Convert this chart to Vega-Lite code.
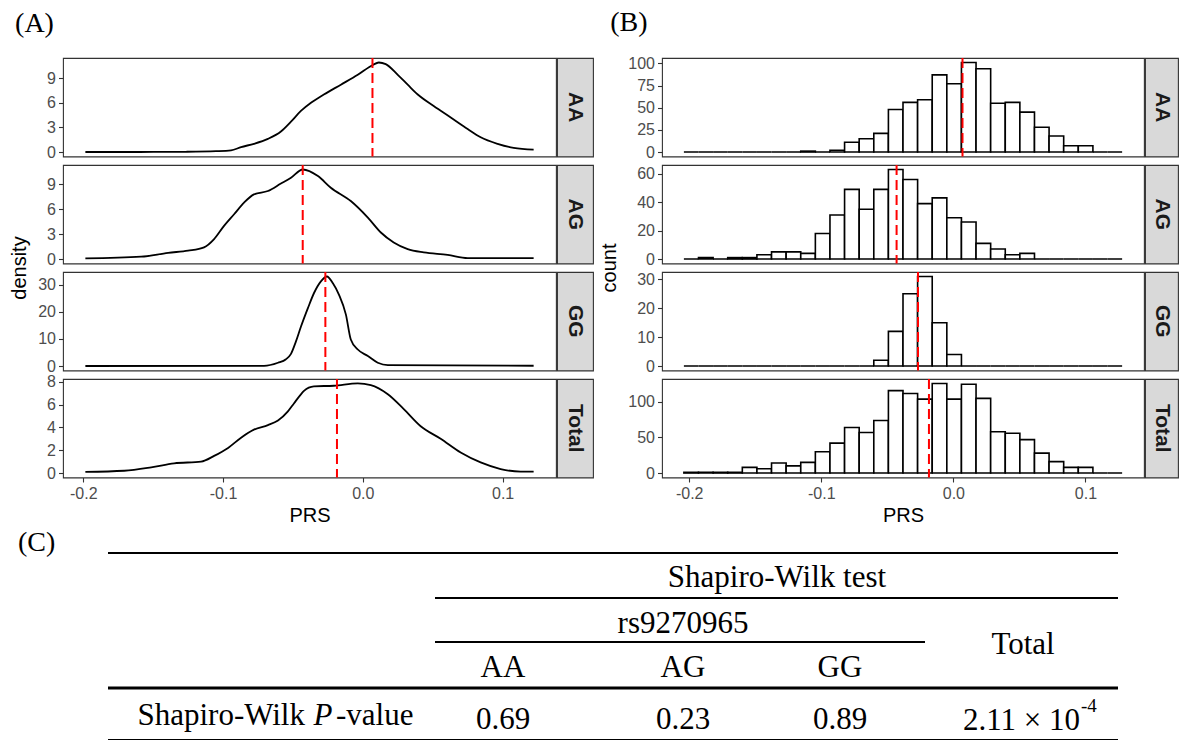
{
"$schema": "https://vega.github.io/schema/vega-lite/v6.json",
"background": "white",
"padding": {"left": 9, "top": 8, "right": 0, "bottom": 0},
"config": {
  "view": {"stroke": "#333333", "strokeWidth": 1.1},
  "axis": {"grid": false, "domain": false, "ticks": true, "tickColor": "#333333", "tickSize": 4.5, "tickWidth": 1.1, "labelColor": "#4D4D4D", "labelFont": "Liberation Sans", "labelFontSize": 16, "labelPadding": 3, "titleFont": "Liberation Sans", "titleFontSize": 20, "titleFontWeight": "normal", "titleColor": "#000000", "labelOverlap": false, "labelFlush": false},
  "title": {"font": "Liberation Serif", "fontSize": 28, "fontWeight": "normal", "color": "#000000", "anchor": "start", "frame": "bounds", "offset": 18}
},
"datasets": {
  "dens": [
    {"g":"AA","prs":-0.1985,"density":0},{"g":"AA","prs":-0.17,"density":0},{"g":"AA","prs":-0.15,"density":0.01},{"g":"AA","prs":-0.1264,"density":0.03},{"g":"AA","prs":-0.105,"density":0.1},{"g":"AA","prs":-0.0943,"density":0.2},{"g":"AA","prs":-0.0871,"density":0.6},{"g":"AA","prs":-0.0779,"density":1.0},{"g":"AA","prs":-0.0679,"density":1.6},{"g":"AA","prs":-0.0586,"density":2.5},{"g":"AA","prs":-0.0514,"density":3.7},{"g":"AA","prs":-0.0443,"density":5.0},{"g":"AA","prs":-0.0371,"density":6.0},{"g":"AA","prs":-0.0279,"density":7.0},{"g":"AA","prs":-0.0157,"density":8.2},{"g":"AA","prs":-0.0036,"density":9.4},{"g":"AA","prs":0.0071,"density":10.6},{"g":"AA","prs":0.0114,"density":10.9},{"g":"AA","prs":0.0164,"density":10.7},{"g":"AA","prs":0.025,"density":9.4},{"g":"AA","prs":0.0321,"density":8.2},{"g":"AA","prs":0.0393,"density":7.0},{"g":"AA","prs":0.0507,"density":5.6},{"g":"AA","prs":0.0629,"density":4.2},{"g":"AA","prs":0.075,"density":2.8},{"g":"AA","prs":0.0843,"density":1.8},{"g":"AA","prs":0.0964,"density":1.0},{"g":"AA","prs":0.1079,"density":0.5},{"g":"AA","prs":0.1222,"density":0.28},
    {"g":"AG","prs":-0.1985,"density":0.07},{"g":"AG","prs":-0.1586,"density":0.28},{"g":"AG","prs":-0.1393,"density":0.75},{"g":"AG","prs":-0.125,"density":1.0},{"g":"AG","prs":-0.1136,"density":1.4},{"g":"AG","prs":-0.1064,"density":2.4},{"g":"AG","prs":-0.0993,"density":4.0},{"g":"AG","prs":-0.0921,"density":5.4},{"g":"AG","prs":-0.085,"density":6.8},{"g":"AG","prs":-0.0779,"density":7.8},{"g":"AG","prs":-0.0679,"density":8.2},{"g":"AG","prs":-0.0586,"density":9.1},{"g":"AG","prs":-0.0514,"density":9.8},{"g":"AG","prs":-0.0429,"density":10.8},{"g":"AG","prs":-0.0321,"density":10.0},{"g":"AG","prs":-0.0229,"density":8.6},{"g":"AG","prs":-0.0086,"density":7.0},{"g":"AG","prs":0.0036,"density":5.0},{"g":"AG","prs":0.0129,"density":3.2},{"g":"AG","prs":0.0221,"density":2.0},{"g":"AG","prs":0.0321,"density":1.2},{"g":"AG","prs":0.0436,"density":0.8},{"g":"AG","prs":0.0607,"density":0.5},{"g":"AG","prs":0.075,"density":0.12},{"g":"AG","prs":0.1222,"density":0.1},
    {"g":"GG","prs":-0.1985,"density":0},{"g":"GG","prs":-0.0707,"density":0.05},{"g":"GG","prs":-0.0607,"density":1.2},{"g":"GG","prs":-0.055,"density":2.5},{"g":"GG","prs":-0.0514,"density":4.5},{"g":"GG","prs":-0.0479,"density":9.0},{"g":"GG","prs":-0.0443,"density":14.5},{"g":"GG","prs":-0.0393,"density":21.4},{"g":"GG","prs":-0.035,"density":26.9},{"g":"GG","prs":-0.03,"density":31.3},{"g":"GG","prs":-0.0257,"density":33.1},{"g":"GG","prs":-0.0214,"density":30.6},{"g":"GG","prs":-0.0171,"density":26.4},{"g":"GG","prs":-0.0121,"density":19.0},{"g":"GG","prs":-0.0086,"density":9.8},{"g":"GG","prs":-0.0036,"density":6.1},{"g":"GG","prs":0.0036,"density":3.7},{"g":"GG","prs":0.0107,"density":1.2},{"g":"GG","prs":0.0179,"density":0.3},{"g":"GG","prs":0.1222,"density":0.1},
    {"g":"Total","prs":-0.1985,"density":0.1},{"g":"Total","prs":-0.1707,"density":0.2},{"g":"Total","prs":-0.1514,"density":0.5},{"g":"Total","prs":-0.135,"density":0.85},{"g":"Total","prs":-0.1157,"density":1.0},{"g":"Total","prs":-0.1064,"density":1.5},{"g":"Total","prs":-0.0964,"density":2.2},{"g":"Total","prs":-0.0871,"density":3.1},{"g":"Total","prs":-0.0779,"density":3.8},{"g":"Total","prs":-0.0679,"density":4.2},{"g":"Total","prs":-0.0607,"density":4.6},{"g":"Total","prs":-0.0536,"density":5.4},{"g":"Total","prs":-0.0493,"density":6.1},{"g":"Total","prs":-0.0443,"density":6.9},{"g":"Total","prs":-0.0421,"density":7.2},{"g":"Total","prs":-0.035,"density":7.6},{"g":"Total","prs":-0.0207,"density":7.65},{"g":"Total","prs":-0.0036,"density":7.85},{"g":"Total","prs":0.0057,"density":7.7},{"g":"Total","prs":0.0179,"density":6.9},{"g":"Total","prs":0.0293,"density":5.6},{"g":"Total","prs":0.0414,"density":4.1},{"g":"Total","prs":0.0557,"density":3.0},{"g":"Total","prs":0.07,"density":1.8},{"g":"Total","prs":0.0843,"density":0.93},{"g":"Total","prs":0.0986,"density":0.35},{"g":"Total","prs":0.1129,"density":0.12},{"g":"Total","prs":0.1222,"density":0.12}
  ],
  "hist": [
    {"x0":-0.20403,"x1":-0.19297,"AA":0,"AG":0,"GG":0,"Total":1},
    {"x0":-0.19297,"x1":-0.18191,"AA":0,"AG":1,"GG":0,"Total":1},
    {"x0":-0.18191,"x1":-0.17085,"AA":0,"AG":0,"GG":0,"Total":1},
    {"x0":-0.17085,"x1":-0.15979,"AA":0,"AG":1,"GG":0,"Total":1},
    {"x0":-0.15979,"x1":-0.14874,"AA":0,"AG":1,"GG":0,"Total":8},
    {"x0":-0.14874,"x1":-0.13768,"AA":0,"AG":3,"GG":0,"Total":6},
    {"x0":-0.13768,"x1":-0.12662,"AA":0,"AG":5,"GG":0,"Total":14},
    {"x0":-0.12662,"x1":-0.11556,"AA":0,"AG":5,"GG":0,"Total":10},
    {"x0":-0.11556,"x1":-0.1045,"AA":1,"AG":4,"GG":0,"Total":15},
    {"x0":-0.1045,"x1":-0.09344,"AA":0,"AG":18,"GG":0,"Total":30},
    {"x0":-0.09344,"x1":-0.08238,"AA":2,"AG":31,"GG":0,"Total":42},
    {"x0":-0.08238,"x1":-0.07132,"AA":11,"AG":49,"GG":0,"Total":64},
    {"x0":-0.07132,"x1":-0.06026,"AA":15,"AG":35,"GG":0,"Total":57},
    {"x0":-0.06026,"x1":-0.0492,"AA":21,"AG":49,"GG":2,"Total":74},
    {"x0":-0.0492,"x1":-0.03815,"AA":48,"AG":63,"GG":12,"Total":116},
    {"x0":-0.03815,"x1":-0.02709,"AA":56,"AG":56,"GG":25,"Total":112},
    {"x0":-0.02709,"x1":-0.01603,"AA":59,"AG":39,"GG":31,"Total":104},
    {"x0":-0.01603,"x1":-0.00497,"AA":87,"AG":43,"GG":15,"Total":126},
    {"x0":-0.00497,"x1":0.00609,"AA":77,"AG":29,"GG":4,"Total":104},
    {"x0":0.00609,"x1":0.01715,"AA":101,"AG":26,"GG":0,"Total":125},
    {"x0":0.01715,"x1":0.02821,"AA":94,"AG":11,"GG":0,"Total":105},
    {"x0":0.02821,"x1":0.03927,"AA":55,"AG":7,"GG":0,"Total":58},
    {"x0":0.03927,"x1":0.05033,"AA":56,"AG":3,"GG":0,"Total":56},
    {"x0":0.05033,"x1":0.06139,"AA":45,"AG":4,"GG":0,"Total":47},
    {"x0":0.06139,"x1":0.07244,"AA":28,"AG":0,"GG":0,"Total":28},
    {"x0":0.07244,"x1":0.0835,"AA":18,"AG":0,"GG":0,"Total":16},
    {"x0":0.0835,"x1":0.09456,"AA":7,"AG":0,"GG":0,"Total":8},
    {"x0":0.09456,"x1":0.10562,"AA":7,"AG":0,"GG":0,"Total":8},
    {"x0":0.10562,"x1":0.11668,"AA":0,"AG":0,"GG":0,"Total":0},
    {"x0":0.11668,"x1":0.12774,"AA":0,"AG":0,"GG":0,"Total":0}
  ],
  "means": [{"g":"AA","mean":0.0069},{"g":"AG","mean":-0.043},{"g":"GG","mean":-0.0268},{"g":"Total","mean":-0.0185}]
},
"vconcat": [
  {
    "spacing": 5,
    "hconcat": [
      {
        "title": {"text": "(A)", "dx": 6},
        "columns": 2,
        "spacing": {"row": 8, "column": 1},
        "bounds": "flush",
        "concat": [
            {"width": 493, "height": 98.5, "layer": [
              {"data": {"name": "dens"}, "transform": [{"filter": "datum.g === 'AA'"}], "mark": {"type": "line", "color": "#000000", "strokeWidth": 1.8, "interpolate": "monotone"},
               "encoding": {"x": {"field": "prs", "type": "quantitative", "scale": {"domain": [-0.2145, 0.1382], "nice": false, "zero": false}, "axis": null},
                            "y": {"field": "density", "type": "quantitative", "scale": {"domain": [-0.545, 11.445], "nice": false, "zero": false}, "axis": {"values": [0,3,6,9], "title": null}}}},
              {"data": {"name": "means"}, "transform": [{"filter": "datum.g === 'AA'"}], "mark": {"type": "rule", "color": "#FF0000", "strokeWidth": 2, "strokeDash": [10,5]},
               "encoding": {"x": {"field": "mean", "type": "quantitative", "scale": {"domain": [-0.2145, 0.1382], "nice": false, "zero": false}}}}
            ]},
            {"width": 36, "height": 98.5, "view": {"fill": "#D9D9D9", "stroke": "#333333", "strokeWidth": 1.1}, "data": {"values": [{"g": "AA"}]}, "mark": {"type": "text", "angle": 90, "font": "Liberation Sans", "fontSize": 21, "fontWeight": "bold", "color": "#1A1A1A", "align": "center", "baseline": "middle"}, "encoding": {"text": {"field": "g", "type": "nominal"}}},
            {"width": 493, "height": 98.5, "layer": [
              {"data": {"name": "dens"}, "transform": [{"filter": "datum.g === 'AG'"}], "mark": {"type": "line", "color": "#000000", "strokeWidth": 1.8, "interpolate": "monotone"},
               "encoding": {"x": {"field": "prs", "type": "quantitative", "scale": {"domain": [-0.2145, 0.1382], "nice": false, "zero": false}, "axis": null},
                            "y": {"field": "density", "type": "quantitative", "scale": {"domain": [-0.54, 11.34], "nice": false, "zero": false}, "axis": {"values": [0,3,6,9], "title": "density", "titleY": 102.5, "titlePadding": 17}}}},
              {"data": {"name": "means"}, "transform": [{"filter": "datum.g === 'AG'"}], "mark": {"type": "rule", "color": "#FF0000", "strokeWidth": 2, "strokeDash": [10,5]},
               "encoding": {"x": {"field": "mean", "type": "quantitative", "scale": {"domain": [-0.2145, 0.1382], "nice": false, "zero": false}}}}
            ]},
            {"width": 36, "height": 98.5, "view": {"fill": "#D9D9D9", "stroke": "#333333", "strokeWidth": 1.1}, "data": {"values": [{"g": "AG"}]}, "mark": {"type": "text", "angle": 90, "font": "Liberation Sans", "fontSize": 21, "fontWeight": "bold", "color": "#1A1A1A", "align": "center", "baseline": "middle"}, "encoding": {"text": {"field": "g", "type": "nominal"}}},
            {"width": 493, "height": 98.5, "layer": [
              {"data": {"name": "dens"}, "transform": [{"filter": "datum.g === 'GG'"}], "mark": {"type": "line", "color": "#000000", "strokeWidth": 1.8, "interpolate": "monotone"},
               "encoding": {"x": {"field": "prs", "type": "quantitative", "scale": {"domain": [-0.2145, 0.1382], "nice": false, "zero": false}, "axis": null},
                            "y": {"field": "density", "type": "quantitative", "scale": {"domain": [-1.655, 34.755], "nice": false, "zero": false}, "axis": {"values": [0,10,20,30], "title": null}}}},
              {"data": {"name": "means"}, "transform": [{"filter": "datum.g === 'GG'"}], "mark": {"type": "rule", "color": "#FF0000", "strokeWidth": 2, "strokeDash": [10,5]},
               "encoding": {"x": {"field": "mean", "type": "quantitative", "scale": {"domain": [-0.2145, 0.1382], "nice": false, "zero": false}}}}
            ]},
            {"width": 36, "height": 98.5, "view": {"fill": "#D9D9D9", "stroke": "#333333", "strokeWidth": 1.1}, "data": {"values": [{"g": "GG"}]}, "mark": {"type": "text", "angle": 90, "font": "Liberation Sans", "fontSize": 21, "fontWeight": "bold", "color": "#1A1A1A", "align": "center", "baseline": "middle"}, "encoding": {"text": {"field": "g", "type": "nominal"}}},
            {"width": 493, "height": 98.5, "layer": [
              {"data": {"name": "dens"}, "transform": [{"filter": "datum.g === 'Total'"}], "mark": {"type": "line", "color": "#000000", "strokeWidth": 1.8, "interpolate": "monotone"},
               "encoding": {"x": {"field": "prs", "type": "quantitative", "scale": {"domain": [-0.2145, 0.1382], "nice": false, "zero": false}, "axis": {"values": [-0.2,-0.1,0,0.1], "title": "PRS", "labelExpr": "datum.value < 0 ? '-' + format(-datum.value, '.1f') : format(datum.value, '.1f')", "titlePadding": 4}},
                            "y": {"field": "density", "type": "quantitative", "scale": {"domain": [-0.39, 8.24], "nice": false, "zero": false}, "axis": {"values": [0,2,4,6,8], "title": null}}}},
              {"data": {"name": "means"}, "transform": [{"filter": "datum.g === 'Total'"}], "mark": {"type": "rule", "color": "#FF0000", "strokeWidth": 2, "strokeDash": [10,5]},
               "encoding": {"x": {"field": "mean", "type": "quantitative", "scale": {"domain": [-0.2145, 0.1382], "nice": false, "zero": false}}}}
            ]},
            {"width": 36, "height": 98.5, "view": {"fill": "#D9D9D9", "stroke": "#333333", "strokeWidth": 1.1}, "data": {"values": [{"g": "Total"}]}, "mark": {"type": "text", "angle": 90, "font": "Liberation Sans", "fontSize": 21, "fontWeight": "bold", "color": "#1A1A1A", "align": "center", "baseline": "middle"}, "encoding": {"text": {"field": "g", "type": "nominal"}}}
        ]
      },
      {
        "title": {"text": "(B)", "dx": 11},
        "columns": 2,
        "spacing": {"row": 8, "column": 1},
        "bounds": "flush",
        "concat": [
            {"width": 482, "height": 98.5, "layer": [
              {"data": {"name": "hist"}, "mark": {"type": "rect", "fill": "#FFFFFF", "stroke": "#000000", "strokeWidth": 1.6},
               "encoding": {"x": {"field": "x0", "type": "quantitative", "scale": {"domain": [-0.2206, 0.1443], "nice": false, "zero": false}, "axis": null}, "x2": {"field": "x1"},
                            "y": {"field": "AA", "type": "quantitative", "scale": {"domain": [-5.05, 106.05], "nice": false, "zero": false}, "axis": {"values": [0,25,50,75,100], "title": null}}, "y2": {"datum": 0}}},
              {"data": {"name": "means"}, "transform": [{"filter": "datum.g === 'AA'"}], "mark": {"type": "rule", "color": "#FF0000", "strokeWidth": 2, "strokeDash": [10,5]},
               "encoding": {"x": {"field": "mean", "type": "quantitative", "scale": {"domain": [-0.2206, 0.1443], "nice": false, "zero": false}}}}
            ]},
            {"width": 33, "height": 98.5, "view": {"fill": "#D9D9D9", "stroke": "#333333", "strokeWidth": 1.1}, "data": {"values": [{"g": "AA"}]}, "mark": {"type": "text", "angle": 90, "font": "Liberation Sans", "fontSize": 21, "fontWeight": "bold", "color": "#1A1A1A", "align": "center", "baseline": "middle"}, "encoding": {"text": {"field": "g", "type": "nominal"}}},
            {"width": 482, "height": 98.5, "layer": [
              {"data": {"name": "hist"}, "mark": {"type": "rect", "fill": "#FFFFFF", "stroke": "#000000", "strokeWidth": 1.6},
               "encoding": {"x": {"field": "x0", "type": "quantitative", "scale": {"domain": [-0.2206, 0.1443], "nice": false, "zero": false}, "axis": null}, "x2": {"field": "x1"},
                            "y": {"field": "AG", "type": "quantitative", "scale": {"domain": [-3.15, 66.15], "nice": false, "zero": false}, "axis": {"values": [0,20,40,60], "title": "count", "titleY": 102.5, "titlePadding": 17}}, "y2": {"datum": 0}}},
              {"data": {"name": "means"}, "transform": [{"filter": "datum.g === 'AG'"}], "mark": {"type": "rule", "color": "#FF0000", "strokeWidth": 2, "strokeDash": [10,5]},
               "encoding": {"x": {"field": "mean", "type": "quantitative", "scale": {"domain": [-0.2206, 0.1443], "nice": false, "zero": false}}}}
            ]},
            {"width": 33, "height": 98.5, "view": {"fill": "#D9D9D9", "stroke": "#333333", "strokeWidth": 1.1}, "data": {"values": [{"g": "AG"}]}, "mark": {"type": "text", "angle": 90, "font": "Liberation Sans", "fontSize": 21, "fontWeight": "bold", "color": "#1A1A1A", "align": "center", "baseline": "middle"}, "encoding": {"text": {"field": "g", "type": "nominal"}}},
            {"width": 482, "height": 98.5, "layer": [
              {"data": {"name": "hist"}, "mark": {"type": "rect", "fill": "#FFFFFF", "stroke": "#000000", "strokeWidth": 1.6},
               "encoding": {"x": {"field": "x0", "type": "quantitative", "scale": {"domain": [-0.2206, 0.1443], "nice": false, "zero": false}, "axis": null}, "x2": {"field": "x1"},
                            "y": {"field": "GG", "type": "quantitative", "scale": {"domain": [-1.55, 32.55], "nice": false, "zero": false}, "axis": {"values": [0,10,20,30], "title": null}}, "y2": {"datum": 0}}},
              {"data": {"name": "means"}, "transform": [{"filter": "datum.g === 'GG'"}], "mark": {"type": "rule", "color": "#FF0000", "strokeWidth": 2, "strokeDash": [10,5]},
               "encoding": {"x": {"field": "mean", "type": "quantitative", "scale": {"domain": [-0.2206, 0.1443], "nice": false, "zero": false}}}}
            ]},
            {"width": 33, "height": 98.5, "view": {"fill": "#D9D9D9", "stroke": "#333333", "strokeWidth": 1.1}, "data": {"values": [{"g": "GG"}]}, "mark": {"type": "text", "angle": 90, "font": "Liberation Sans", "fontSize": 21, "fontWeight": "bold", "color": "#1A1A1A", "align": "center", "baseline": "middle"}, "encoding": {"text": {"field": "g", "type": "nominal"}}},
            {"width": 482, "height": 98.5, "layer": [
              {"data": {"name": "hist"}, "mark": {"type": "rect", "fill": "#FFFFFF", "stroke": "#000000", "strokeWidth": 1.6},
               "encoding": {"x": {"field": "x0", "type": "quantitative", "scale": {"domain": [-0.2206, 0.1443], "nice": false, "zero": false}, "axis": {"values": [-0.2,-0.1,0,0.1], "title": "PRS", "labelExpr": "datum.value < 0 ? '-' + format(-datum.value, '.1f') : format(datum.value, '.1f')", "titlePadding": 4}}, "x2": {"field": "x1"},
                            "y": {"field": "Total", "type": "quantitative", "scale": {"domain": [-6.3, 132.3], "nice": false, "zero": false}, "axis": {"values": [0,50,100], "title": null}}, "y2": {"datum": 0}}},
              {"data": {"name": "means"}, "transform": [{"filter": "datum.g === 'Total'"}], "mark": {"type": "rule", "color": "#FF0000", "strokeWidth": 2, "strokeDash": [10,5]},
               "encoding": {"x": {"field": "mean", "type": "quantitative", "scale": {"domain": [-0.2206, 0.1443], "nice": false, "zero": false}}}}
            ]},
            {"width": 33, "height": 98.5, "view": {"fill": "#D9D9D9", "stroke": "#333333", "strokeWidth": 1.1}, "data": {"values": [{"g": "Total"}]}, "mark": {"type": "text", "angle": 90, "font": "Liberation Sans", "fontSize": 21, "fontWeight": "bold", "color": "#1A1A1A", "align": "center", "baseline": "middle"}, "encoding": {"text": {"field": "g", "type": "nominal"}}}
        ]
      }
    ]
  },
  {
    "width": 1119, "height": 210,
    "view": {"stroke": null},
    "layer": [
      {"data": {"values": [{"x":4.5,"x2":105.5,"y":2.1},{"x":37.2,"x2":105.5,"y":6.6},{"x":37.2,"x2":86.2,"y":11.0},{"x":4.5,"x2":105.5,"y":20.8}]},
       "mark": {"type": "rule", "color": "#000000", "strokeWidth": 1.8},
       "encoding": {"x": {"field": "x", "type": "quantitative", "scale": {"domain": [0, 111.9], "nice": false, "zero": false}, "axis": null}, "x2": {"field": "x2"},
                    "y": {"field": "y", "type": "quantitative", "scale": {"domain": [0, 21], "nice": false, "zero": false, "reverse": true}, "axis": null}}},
      {"data": {"values": [{"x":4.5,"x2":105.5,"y":15.6}]},
       "mark": {"type": "rule", "color": "#000000", "strokeWidth": 3},
       "encoding": {"x": {"field": "x", "type": "quantitative", "axis": null}, "x2": {"field": "x2"}, "y": {"field": "y", "type": "quantitative", "axis": null}}},
      {"data": {"values": [{"t":"Shapiro-Wilk test","x":71.4,"y":5.5},{"t":"rs9270965","x":62.0,"y":10.1},{"t":"Total","x":96.0,"y":12.2},{"t":"AA","x":44.0,"y":14.5},{"t":"AG","x":62.0,"y":14.5},{"t":"GG","x":77.7,"y":14.5},{"t":"0.69","x":44.0,"y":19.7},{"t":"0.23","x":62.0,"y":19.7},{"t":"0.89","x":77.7,"y":19.7}]},
       "mark": {"type": "text", "font": "Liberation Serif", "fontSize": 31, "color": "#000000", "align": "center", "baseline": "alphabetic"},
       "encoding": {"x": {"field": "x", "type": "quantitative", "axis": null}, "y": {"field": "y", "type": "quantitative", "axis": null}, "text": {"field": "t", "type": "nominal"}}},
      {"data": {"values": [{"t":"Shapiro-Wilk","x":24.2,"y":19.3},{"t":"2.11 × 10","x":101.7,"y":19.8}]},
       "mark": {"type": "text", "font": "Liberation Serif", "fontSize": 31, "color": "#000000", "align": "right", "baseline": "alphabetic"},
       "encoding": {"x": {"field": "x", "type": "quantitative", "axis": null}, "y": {"field": "y", "type": "quantitative", "axis": null}, "text": {"field": "t", "type": "nominal"}}},
      {"data": {"values": [{"t":"P","x":26.0,"y":19.3}]},
       "mark": {"type": "text", "font": "Liberation Serif", "fontSize": 31, "fontStyle": "italic", "color": "#000000", "align": "center", "baseline": "alphabetic"},
       "encoding": {"x": {"field": "x", "type": "quantitative", "axis": null}, "y": {"field": "y", "type": "quantitative", "axis": null}, "text": {"field": "t", "type": "nominal"}}},
      {"data": {"values": [{"t":"-value","x":27.3,"y":19.3}]},
       "mark": {"type": "text", "font": "Liberation Serif", "fontSize": 31, "color": "#000000", "align": "left", "baseline": "alphabetic"},
       "encoding": {"x": {"field": "x", "type": "quantitative", "axis": null}, "y": {"field": "y", "type": "quantitative", "axis": null}, "text": {"field": "t", "type": "nominal"}}},
      {"data": {"values": [{"t":"-4","x":101.8,"y":18.0}]},
       "mark": {"type": "text", "font": "Liberation Serif", "fontSize": 19, "color": "#000000", "align": "left", "baseline": "alphabetic"},
       "encoding": {"x": {"field": "x", "type": "quantitative", "axis": null}, "y": {"field": "y", "type": "quantitative", "axis": null}, "text": {"field": "t", "type": "nominal"}}},
      {"data": {"values": [{"t":"(C)","x":-4.5,"y":1.9}]},
       "mark": {"type": "text", "font": "Liberation Serif", "fontSize": 28, "color": "#000000", "align": "left", "baseline": "alphabetic"},
       "encoding": {"x": {"field": "x", "type": "quantitative", "axis": null}, "y": {"field": "y", "type": "quantitative", "axis": null}, "text": {"field": "t", "type": "nominal"}}}
    ]
  }
],
"spacing": 3
}
